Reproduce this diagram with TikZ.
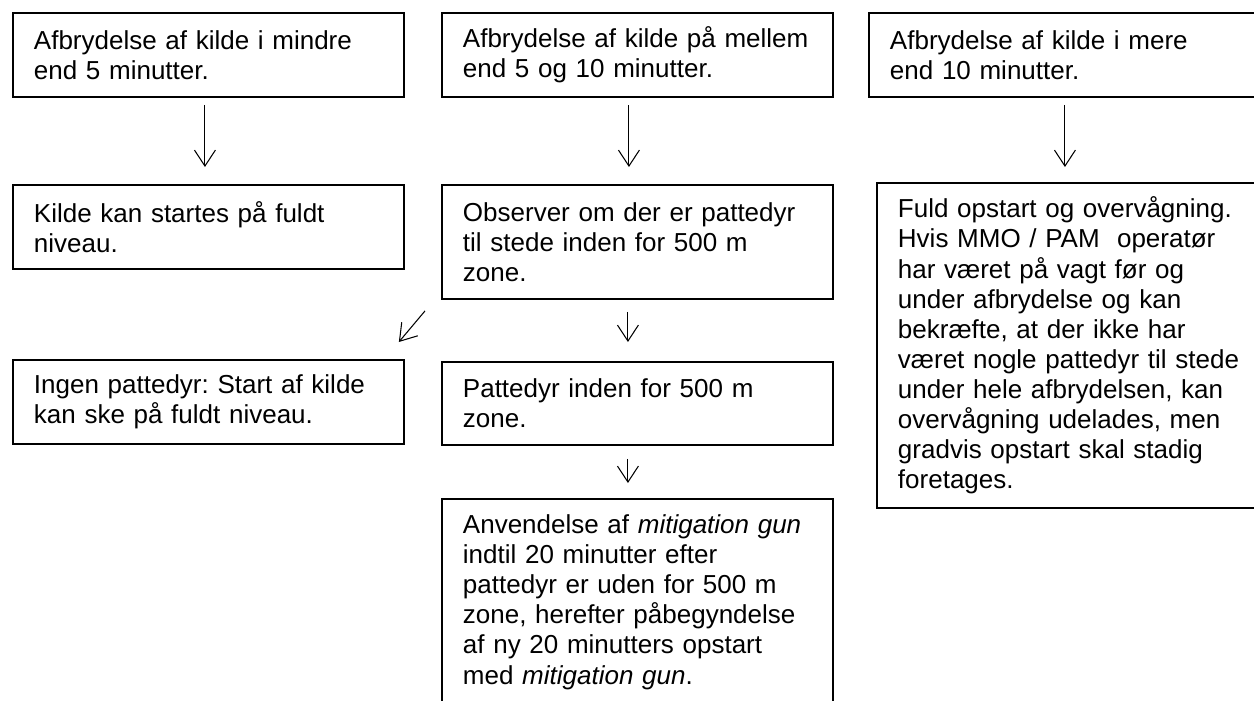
\documentclass[tikz,border=0pt]{standalone}
\usepackage{fontspec}
\setmainfont{Liberation Sans}
\usepackage{tikz}
\usetikzlibrary{calc,arrows.meta}

\tikzset{
  box/.style={draw, line width=1.1pt, anchor=north west, align=left,
    inner xsep=0.42cm, inner ysep=0.28cm, text width=6.98cm,
    minimum height=1.68cm, font=\fontsize{14.8pt}{17.1pt}\selectfont\frenchspacing},
  arr/.style={line width=0.6pt, -{Straight Barb[length=0.32cm,width=0.42cm]}}
}

\begin{document}
\begin{tikzpicture}[x=0.02cm,y=-0.02cm]

\useasboundingbox (0,0) rectangle (1254,700);

% top row
\node[box] (less) at (12,12) {Afbrydelse af kilde i mindre\\end 5 minutter.};
\node[box] (between) at (441,12) {Afbrydelse af kilde på mellem\\end 5 og 10 minutter.};
\node[box, text width=7.08cm] (more) at (868,12) {Afbrydelse af kilde i mere\\end 10 minutter.};

% second row
\node[box] (full) at (12,184) {Kilde kan startes på fuldt\\niveau.};
\node[box, minimum height=2.28cm] (obs) at (441,184) {Observer om der er pattedyr\\til stede inden for 500 m\\zone.};
\node[box, text width=6.96cm, minimum height=6.46cm] (watch) at (876,182) {Fuld opstart og overvågning.\\Hvis MMO / PAM\ \ operatør\\har været på vagt før og\\under afbrydelse og kan\\bekræfte, at der ikke har\\været nogle pattedyr til stede\\under hele afbrydelsen, kan\\overvågning udelades, men\\gradvis opstart skal stadig\\foretages.};

% third row
\node[box] (none) at (12,359) {Ingen pattedyr: Start af kilde\\kan ske på fuldt niveau.};
\node[box, minimum height=1.66cm] (near) at (441,361) {Pattedyr inden for 500 m\\zone.};

% last box
\node[box, inner ysep=0.32cm] (gun) at (441,498) {Anvendelse af \textit{mitigation gun}\\indtil 20 minutter efter\\pattedyr er uden for 500 m\\zone, herefter påbegyndelse\\af ny 20 minutters opstart\\med \textit{mitigation gun}.};

% arrows
\draw[arr, shorten <=0.14cm, shorten >=0.34cm] ([xshift=-0.07cm]less.south) -- ([xshift=-0.07cm]less.south |- full.north);
\draw[arr, shorten <=0.14cm, shorten >=0.34cm] ([xshift=-0.17cm]between.south) -- ([xshift=-0.17cm]between.south |- obs.north);
\draw[arr, shorten <=0.14cm, shorten >=0.3cm] ([xshift=-0.04cm]more.south) -- ([xshift=-0.04cm]more.south |- watch.north);
\draw[arr, shorten <=0.24cm, shorten >=0.38cm] ([xshift=-0.19cm]obs.south) -- ([xshift=-0.19cm]obs.south |- near.north);
\draw[arr, shorten <=0.26cm, shorten >=0.3cm] ([xshift=-0.19cm]near.south) -- ([xshift=-0.19cm]near.south |- gun.north);
\draw[arr] ($(obs.south west)+(-16,11)$) -- ($(none.north east)+(-6,-17)$);

\end{tikzpicture}
\end{document}
